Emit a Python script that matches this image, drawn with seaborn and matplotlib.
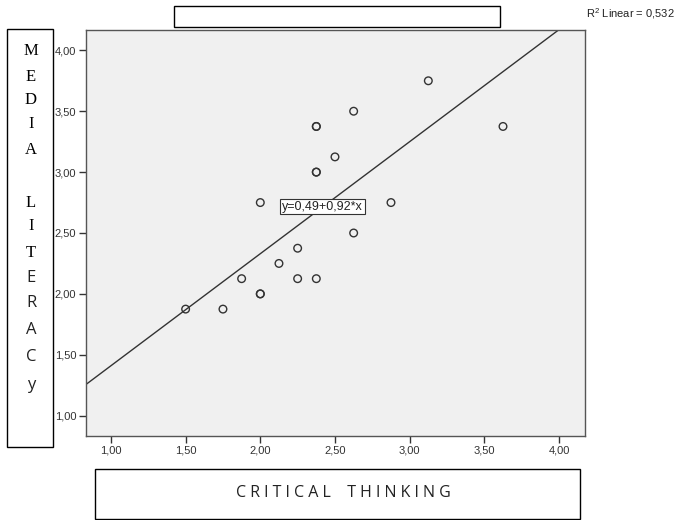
import matplotlib
matplotlib.use('Agg')
import matplotlib.pyplot as plt
import seaborn as sns
from matplotlib.patches import Rectangle

# values
critical_thinking = [1.50, 1.75, 1.875, 2.00, 2.00, 2.00, 2.125, 2.25, 2.25, 2.375,
                     2.375, 2.375, 2.375, 2.375, 2.50, 2.625, 2.625, 2.875, 3.125, 3.625]
media_literacy = [1.875, 1.875, 2.125, 2.00, 2.00, 2.75, 2.25, 2.375, 2.125, 2.125,
                  3.375, 3.375, 3.00, 3.00, 3.125, 3.50, 2.50, 2.75, 3.75, 3.375]
intercept = 0.49
slope = 0.92
r2_text = 'R$^2$ Linear = 0,532'
eq_text = 'y=0,49+0,92*x'
tick_values = [1.00, 1.50, 2.00, 2.50, 3.00, 3.50, 4.00]
tick_labels = ['1,00', '1,50', '2,00', '2,50', '3,00', '3,50', '4,00']
x_title = 'C R I T I C A L    T H I N K I N G'
y_letters_serif = ['M', 'E', 'D', 'I', 'A', 'L', 'I', 'T']
y_letters_sans = ['E', 'R', 'A', 'C', 'y']

sns.set_style('white')
plt.rcParams['font.family'] = ['Liberation Sans', 'DejaVu Sans']
plt.rcParams['mathtext.fontset'] = 'custom'
plt.rcParams['mathtext.rm'] = 'Liberation Sans'

W, H = 676, 520
fig = plt.figure(figsize=(W / 100, H / 100), dpi=100)
ax = fig.add_axes([86 / W, 1 - 436 / H, (585 - 86) / W, (436 - 30) / H])
ax.set_facecolor('#f0f0f0')

sns.scatterplot(x=critical_thinking, y=media_literacy, ax=ax, marker='o', s=30,
                edgecolor='#333333', linewidth=1, zorder=3)
ax.collections[0].set_facecolor('none')

ax.axline((0, intercept), slope=slope, color='#333333', lw=1, zorder=2)

ax.set_xlim(0.833, 4.174)
ax.set_ylim(0.833, 4.167)
ax.set_xticks(tick_values)
ax.set_xticklabels(tick_labels)
ax.set_yticks(tick_values)
ax.set_yticklabels(tick_labels)
ax.tick_params(axis='both', direction='out', length=5, width=1, color='#333333',
               labelsize=8, labelcolor='#333333', pad=2)
ax.tick_params(axis='x', bottom=True)
ax.tick_params(axis='y', left=True)
for sp in ax.spines.values():
    sp.set_color('#555555')
    sp.set_linewidth(1)

ax.text(2.418, 2.717, eq_text, ha='center', va='center', fontsize=9, color='#222222',
        bbox=dict(boxstyle='square,pad=0.15', fc='white', ec='#333333', lw=0.8), zorder=4)

fig.text(586 / W, 1 - 14 / H, r2_text, fontsize=8, va='center', ha='left', color='#222222')

# boxes around titles
fig.patches.append(Rectangle((174 / W, 1 - 27 / H), (500 - 174) / W, 21 / H,
                             transform=fig.transFigure, fill=False, ec='black', lw=1))
fig.patches.append(Rectangle((7 / W, 1 - 447 / H), (53 - 7) / W, (447 - 29) / H,
                             transform=fig.transFigure, fill=False, ec='black', lw=1))
fig.patches.append(Rectangle((95 / W, 1 - 519 / H), (580 - 95) / W, (519 - 469) / H,
                             transform=fig.transFigure, fill=False, ec='black', lw=1))

fig.text(343 / W, 1 - 493 / H, x_title, ha='center', va='center', fontsize=11.5,
         family=['Open Sans', 'DejaVu Sans'], color='#222222')

serif_y = [51, 77, 100, 124, 150, 203, 226, 253]
for letter, yy in zip(y_letters_serif, serif_y):
    fig.text(31 / W, 1 - yy / H, letter, ha='center', va='center', fontsize=12,
             family=['Liberation Serif', 'DejaVu Serif'], color='black')
sans_y = [278, 303, 330, 357, 385]
for letter, yy in zip(y_letters_sans, sans_y):
    fig.text(31 / W, 1 - yy / H, letter, ha='center', va='center', fontsize=12,
             family=['Open Sans', 'DejaVu Sans'], color='#222222')

fig.savefig('out.png', dpi=100)
